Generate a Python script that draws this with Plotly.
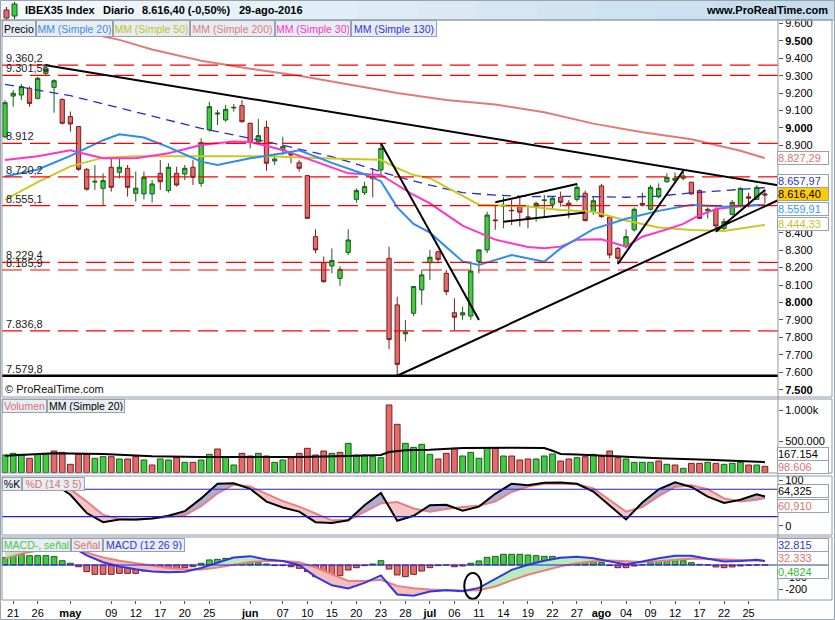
import plotly.graph_objects as go

# ---------------- data ----------------
dates = ["2016-04-20","2016-04-21","2016-04-22","2016-04-25","2016-04-26","2016-04-27","2016-04-28","2016-04-29",
"2016-05-02","2016-05-03","2016-05-04","2016-05-05","2016-05-06","2016-05-09","2016-05-10","2016-05-11","2016-05-12","2016-05-13",
"2016-05-16","2016-05-17","2016-05-18","2016-05-19","2016-05-20","2016-05-23","2016-05-24","2016-05-25","2016-05-26","2016-05-27",
"2016-05-30","2016-05-31",
"2016-06-01","2016-06-02","2016-06-03","2016-06-06","2016-06-07","2016-06-08","2016-06-09","2016-06-10","2016-06-13","2016-06-14",
"2016-06-15","2016-06-16","2016-06-17","2016-06-20","2016-06-21","2016-06-22","2016-06-23","2016-06-24","2016-06-27","2016-06-28",
"2016-06-29","2016-06-30",
"2016-07-01","2016-07-04","2016-07-05","2016-07-06","2016-07-07","2016-07-08","2016-07-11","2016-07-12","2016-07-13","2016-07-14",
"2016-07-15","2016-07-18","2016-07-19","2016-07-20","2016-07-21","2016-07-22","2016-07-25","2016-07-26","2016-07-27","2016-07-28","2016-07-29",
"2016-08-01","2016-08-02","2016-08-03","2016-08-04","2016-08-05","2016-08-08","2016-08-09","2016-08-10","2016-08-11","2016-08-12",
"2016-08-15","2016-08-16","2016-08-17","2016-08-18","2016-08-19","2016-08-22","2016-08-23","2016-08-24","2016-08-25","2016-08-26","2016-08-29"]

opens = [8950,9183,9189,9227,9170,9313,9233,9164,9065,9008,
         8763,8690,8654,8775,8746,8769,8626,8622,8622,8740,
         8641,8740,8736,8775,8683,8989,9080,9046,9115,9128,
         9027,8920,9004,8811,8874,8855,8801,8727,8377,8228,
         8209,8138,8286,8591,8629,8719,8759,8253,7986,7820,
         7938,8072,8228,8290,8167,7941,7928,7922,8234,8301,
         8473,8551,8528,8549,8490,8549,8585,8563,8603,8569,
         8591,8626,8520,8668,8488,8310,8320,8416,8568,8534,
         8606,8692,8700,8712,8689,8641,8526,8534,8425,8505,
         8553,8606,8591,8622]
highs = [9160,9218,9252,9237,9294,9360,9279,9170,9094,9011,
         8770,8788,8740,8832,8836,8788,8750,8750,8702,8816,
         8798,8778,8788,8816,8941,9151,9103,9132,9137,9160,
         9031,9052,9042,8855,8950,8864,8816,8731,8419,8263,
         8310,8209,8419,8654,8692,8769,8912,8320,8033,7900,
         8095,8186,8301,8297,8186,8024,7976,8236,8305,8520,
         8559,8606,8587,8606,8559,8578,8616,8606,8635,8587,
         8683,8640,8606,8679,8495,8318,8419,8545,8629,8673,
         8683,8740,8745,8755,8692,8648,8545,8545,8482,8587,
         8660,8629,8673,8649]
lows = [8940,9122,9160,9122,9164,9303,9088,9020,8979,8755,
        8641,8645,8553,8635,8711,8607,8578,8591,8572,8645,
        8630,8664,8702,8673,8664,8979,9017,9036,9094,9031,
        8883,8912,8754,8788,8845,8798,8750,8480,8282,8113,
        8167,8095,8272,8572,8616,8603,8721,7732,7579.8,7776,
        7922,7986,8129,8224,8043,7842,7900,7900,8167,8282,
        8416,8425,8444,8435,8425,8463,8492,8530,8549,8482,
        8578,8465,8502,8485,8253,8221,8310,8406,8550,8526,
        8597,8685,8685,8700,8617,8477,8482,8406,8406,8498,
        8545,8545,8587,8568]
closes = [9145,9199,9237,9141,9285,9336,9271,9027,9023,8763,
          8649,8694,8698,8660,8775,8660,8655,8717,8679,8692,
          8775,8673,8769,8717,8916,9122,9085,9107,9118,9036,
          8916,8956,8798,8822,8893,8845,8769,8482,8301,8119,
          8240,8190,8358,8641,8664,8710,8883,7787,7645,7830,
          8091,8158,8259,8247,8062,7915,7941,8180,8301,8501,
          8469,8557,8526,8517,8488,8568,8587,8597,8574,8558,
          8660,8469,8583,8492,8272,8253,8377,8534,8557,8660,
          8654,8717,8712,8725,8622,8482,8534,8438,8463,8574,
          8654,8597,8659.7,8616.4]

# volume in thousands of shares, and bar colour (1 = up / green, 0 = down / red)
volume_k = [282,309,293,229,293,293,347,325,132,293,
            293,229,255,255,218,218,255,202,121,218,
            202,239,164,164,202,293,379,255,121,309,
            266,309,266,164,202,239,309,390,282,347,
            309,325,470,282,282,255,239,1089,777,470,
            406,454,293,218,309,390,266,325,229,390,
            390,266,266,202,218,218,266,298,185,218,
            239,255,293,255,347,239,218,164,164,164,
            185,132,121,67,148,148,164,148,132,148,
            164,121,121,98.606]
volume_up = [1,1,1,0,1,1,0,0,0,0, 0,1,1,0,1,0,0,1,0,1,
             1,0,1,0,1,1,0,1,1,0, 0,1,0,1,1,0,0,0,0,0,
             1,0,1,1,1,1,1,0,0,1, 1,
             1,1,0,0,0,1,1,1,1,0, 1,0,0,0,1,1,1,0,0,1,
             0,1,0,0,0,1,1,1,1,0, 1,0,1,0,0,1,0,1,1,1,
             0,1,0]
vma_days = [0,6,12,18,24,30,36,42,46,47,49,52,56,62,66,67,68,70,74,80,86,90,93]
vma_k = [271,309,300,262,250,250,252,265,282,330,360,365,395,400,395,350,300,290,262,230,205,185,167.154]

# moving averages of price (trading-day number, value)
ma20_days = [0,4,8,12,14,17,20,24,26,30,34,36,40,44,46,48,50,52,56,58,62,66,68,72,76,80,84,88,93]
ma20_vals = [8722,8762,8840,8930,8964,8945,8890,8807,8788,8826,8855,8872,8800,8735,8695,8545,8450,8400,8235,8215,
             8272,8234,8310,8420,8480,8525,8560,8548,8559.91]
ma50_days = [0,4,8,12,16,24,32,40,46,48,50,52,56,58,64,68,72,76,80,84,88,93]
ma50_vals = [8590,8690,8780,8830,8838,8838,8838,8825,8818,8770,8730,8712,8610,8560,8550,8530,8520,8470,8430,8415,8410,8444.33]
ma30_days = [0,4,8,12,16,20,24,28,30,34,38,42,46,48,50,52,56,60,64,66,68,70,73,76,78,81,83,85,87,90,93]
ma30_vals = [8817,8838,8872,8826,8826,8855,8903,8922,8920,8874,8807,8740,8731,8673,8616,8568,8440,8360,8318,8310,
             8320,8360,8362,8320,8377,8419,8450,8500,8535,8552,8560]
ma200_days = [0,6,10,14,18,24,30,36,42,48,54,60,66,72,78,84,90,93]
ma200_vals = [9660,9590,9545,9505,9450,9385,9340,9300,9250,9200,9160,9135,9090,9025,8975,8935,8870,8827.29]
ma130_days = [0,8,16,24,32,40,48,52,56,60,64,70,76,80,84,88,93]
ma130_vals = [9250,9185,9092,8998,8922,8836,8721,8672,8630,8615,8607,8608,8603,8610,8628,8640,8657.97]

# oscillators, sampled every second trading day plus the last one
osc_dates = dates[::2] + [dates[-1]]
stoch_k = [92,95,96,92,68,28,8,14,14,16,22,32,60,92,93,81,53,40,31,8,6,12,45,72,11,22,45,46,33,42,
           70,92,89,94,95,92,75,45,14,51,80,95,85,64,50,57,69,64.325]
stoch_d = [85,88,92,92,80,53,24,15,13,16,20,23,43,71,90,86,70,54,42,27,12,12,30,49,52,38,31,37,41,44,
           53,74,86,92,92,91,82,56,31,41,65,85,89,80,60,53,57,60.91]
macd = [114,170,200,205,155,78,22,-12,-35,-52,-58,-55,-25,20,60,72,45,33,0,-95,-165,-190,-145,-85,-240,
        -250,-215,-205,-214,-186,-115,-40,2,35,58,67,54,30,5,28,55,75,76,50,28,33,42,32.815]
signal = [54,92,118,135,140,100,62,35,15,-8,-25,-35,-36,-20,0,25,32,33,22,-20,-75,-130,-130,-120,-170,
          -190,-200,-205,-208,-205,-175,-125,-80,-45,-10,14,30,36,28,25,30,42,50,50,45,40,36,32.333]
macd_hist = [60,76,87,76,76,76,68,35,14,-14,
             -54,-76,-76,-76,-68,-68,-68,-49,-49,-41,
             -33,-27,-22,-14,14,41,46,54,60,54,
             27,19,8,-5,-5,-14,-27,-54,-95,-108,
             -108,-87,-41,-22,-5,8,35,-33,-81,-95,
             -76,-49,-22,-5,0,-14,-8,14,33,62,
             70,87,87,87,81,76,70,70,62,54,
             54,27,27,19,-5,-22,-22,-8,5,19,
             35,35,35,35,19,5,1,-16,-22,-16,
             -8,-3,0.5,0.4824]

# support / resistance levels
level_vals = [9360.2, 9301.56, 8912, 8720.2, 8555.1, 8229.4, 8185.9, 7836.8]
level_txt = ["9.360,2", "9.301,56", "8.912", "8.720,2", "8.555,1", "8.229,4", "8.185,9", "7.836,8"]
support_val, support_txt = 7579.8, "7.579,8"

# hand-drawn trend lines: (date, price) -> (date, price), extend to right edge?
trend_a = [("2016-04-27", 9360), ("2016-06-23", 8912), ("2016-06-27", 7579.8), ("2016-07-13", 8574),
           ("2016-07-14", 8463), ("2016-08-03", 8221), ("2016-08-19", 8406)]
trend_b = [("2016-08-29", 8684), ("2016-07-11", 7900), ("2016-08-18", 8400), ("2016-07-27", 8679),
           ("2016-07-28", 8515), ("2016-08-15", 8755), ("2016-08-29", 8645)]
trend_ext = [True, False, True, False, False, False, False]
ellipse_x = [56.2, 58.3]
ellipse_y = [-276, -65]

tick_dates = ["2016-04-21","2016-04-26","2016-05-02","2016-05-09","2016-05-12","2016-05-17","2016-05-20","2016-05-25",
              "2016-06-01","2016-06-07","2016-06-10","2016-06-15","2016-06-20","2016-06-23","2016-06-28","2016-07-01",
              "2016-07-06","2016-07-11","2016-07-14","2016-07-19","2016-07-22","2016-07-27","2016-08-01","2016-08-04",
              "2016-08-09","2016-08-12","2016-08-17","2016-08-22","2016-08-25"]
tick_text = ["21","26","<b>may</b>","09","12","17","20","25","<b>jun</b>","07","10","15","20","23","28","<b>jul</b>",
             "06","11","14","19","22","27","<b>ago</b>","04","09","12","17","22","25"]

# ---------------- layout helpers ----------------
W, H = 835, 620
ML, MR, MT, MB = 2, 57, 20, 20
PW, PH = W - ML - MR, H - MT - MB
def fx(px): return (px - ML) / PW
def fy(py): return (H - MB - py) / PH

FONT = 'Arial, "Liberation Sans", sans-serif'
GREEN, GREEN_L = '#3fcc3f', '#1c5a1c'
RED, RED_L = '#e36b6b', '#7a1e1e'
SALMON = '#e88080'
pos = {d: i for i, d in enumerate(dates)}
xi = list(range(len(dates)))
osc_x = [pos[d] for d in osc_dates]
XR = [-0.37, 94.6]

price_dom = [fy(397), fy(20)]
vol_dom = [fy(473), fy(399)]
sto_dom = [fy(535), fy(476)]
macd_dom = [fy(600), fy(537)]

fig = go.Figure()

# ---- price panel ----
fig.add_trace(go.Candlestick(x=xi, open=opens, high=highs, low=lows, close=closes,
                             increasing=dict(fillcolor=GREEN, line=dict(color=GREEN_L, width=1)),
                             decreasing=dict(fillcolor=RED, line=dict(color=RED_L, width=1)),
                             whiskerwidth=0, hoverinfo='skip', showlegend=False, xaxis='x', yaxis='y'))
for d, v, c, w, dash in [(ma130_days, ma130_vals, '#2c2cc8', 1.3, '9px,6px'),
                         (ma200_days, ma200_vals, '#e37a7a', 2, 'solid'),
                         (ma50_days, ma50_vals, '#c9c923', 2, 'solid'),
                         (ma30_days, ma30_vals, '#ff33cc', 2, 'solid'),
                         (ma20_days, ma20_vals, '#2b8df2', 2, 'solid')]:
    fig.add_trace(go.Scatter(x=d, y=v, mode='lines', line=dict(color=c, width=w, dash=dash),
                             hoverinfo='skip', showlegend=False, xaxis='x', yaxis='y'))

# ---- volume panel ----
fig.add_trace(go.Bar(x=xi, y=[v * 1000 for v in volume_k], width=0.7,
                     marker=dict(color=[GREEN if u else RED for u in volume_up],
                                 line=dict(color=[GREEN_L if u else RED_L for u in volume_up], width=1)),
                     hoverinfo='skip', showlegend=False, xaxis='x', yaxis='y2'))
fig.add_trace(go.Scatter(x=vma_days, y=[v * 1000 for v in vma_k], mode='lines',
                         line=dict(color='#000000', width=2), hoverinfo='skip', showlegend=False,
                         xaxis='x', yaxis='y2'))

# ---- helper: two-colour fill between two sampled lines ----
def split_fill(xs, a, b):
    pos_x, pos_y, neg_x, neg_y = [], [], [], []
    for j in range(len(xs) - 1):
        x0, x1, a0, a1, b0, b1 = xs[j], xs[j + 1], a[j], a[j + 1], b[j], b[j + 1]
        d0, d1 = a0 - b0, a1 - b1
        if d0 * d1 < 0:
            t = d0 / (d0 - d1)
            xc, yc = x0 + t * (x1 - x0), a0 + t * (a1 - a0)
            segs = [([x0, xc, x0], [a0, yc, b0], d0), ([xc, x1, x1], [yc, a1, b1], d1)]
        else:
            segs = [([x0, x1, x1, x0], [a0, a1, b1, b0], d0 + d1)]
        for sx, sy, dd in segs:
            if dd >= 0:
                pos_x += sx + [None]; pos_y += sy + [None]
            else:
                neg_x += sx + [None]; neg_y += sy + [None]
    return pos_x, pos_y, neg_x, neg_y

# ---- stochastic panel ----
px_, py_, nx_, ny_ = split_fill(osc_x, stoch_k, stoch_d)
fig.add_trace(go.Scatter(x=px_, y=py_, fill='toself', fillcolor='#adadd8', mode='lines', line=dict(width=0),
                         hoverinfo='skip', showlegend=False, xaxis='x', yaxis='y3'))
fig.add_trace(go.Scatter(x=nx_, y=ny_, fill='toself', fillcolor='#f6c6c6', mode='lines', line=dict(width=0),
                         hoverinfo='skip', showlegend=False, xaxis='x', yaxis='y3'))
fig.add_trace(go.Scatter(x=osc_x, y=stoch_d, mode='lines', line=dict(color=SALMON, width=2),
                         hoverinfo='skip', showlegend=False, xaxis='x', yaxis='y3'))
fig.add_trace(go.Scatter(x=osc_x, y=stoch_k, mode='lines', line=dict(color='#000000', width=2),
                         hoverinfo='skip', showlegend=False, xaxis='x', yaxis='y3'))

# ---- MACD panel ----
fig.add_trace(go.Bar(x=xi, y=macd_hist, width=0.7,
                     marker=dict(color=[GREEN if h >= 0 else RED for h in macd_hist],
                                 line=dict(color=[GREEN_L if h >= 0 else RED_L for h in macd_hist], width=1)),
                     hoverinfo='skip', showlegend=False, xaxis='x', yaxis='y4'))
px_, py_, nx_, ny_ = split_fill(osc_x, macd, signal)
fig.add_trace(go.Scatter(x=px_, y=py_, fill='toself', fillcolor='#b9ecb9', mode='lines', line=dict(width=0),
                         hoverinfo='skip', showlegend=False, xaxis='x', yaxis='y4'))
fig.add_trace(go.Scatter(x=nx_, y=ny_, fill='toself', fillcolor='#f5bebe', mode='lines', line=dict(width=0),
                         hoverinfo='skip', showlegend=False, xaxis='x', yaxis='y4'))
fig.add_trace(go.Scatter(x=osc_x, y=signal, mode='lines', line=dict(color=SALMON, width=2),
                         hoverinfo='skip', showlegend=False, xaxis='x', yaxis='y4'))
fig.add_trace(go.Scatter(x=osc_x, y=macd, mode='lines', line=dict(color='#3535e6', width=2),
                         hoverinfo='skip', showlegend=False, xaxis='x', yaxis='y4'))

# ---------------- shapes ----------------
shapes = []
steps = 14
c0, c1 = (244, 249, 253), (196, 220, 238)
for k in range(steps):
    t = k / (steps - 1)
    col = 'rgb(%d,%d,%d)' % tuple(int(c0[m] + (c1[m] - c0[m]) * t) for m in range(3))
    shapes.append(dict(type='rect', xref='paper', yref='paper', x0=fx(W * k / steps), x1=fx(W * (k + 1) / steps + 1),
                       y0=fy(20), y1=fy(0), fillcolor=col, line=dict(width=0), layer='below'))
shapes.append(dict(type='line', xref='paper', yref='paper', x0=fx(0), x1=fx(W), y0=fy(20), y1=fy(20),
                   line=dict(color='#9aa4ae', width=1)))
for (bx0, bx1, by0, by1, wy0, wy1, fc, lc) in [(4, 9, 10, 18, 7, 21, RED, RED_L), (12, 17, 4, 16, 2, 19, GREEN, GREEN_L)]:
    cx = (bx0 + bx1) / 2
    shapes.append(dict(type='line', xref='paper', yref='paper', x0=fx(cx), x1=fx(cx), y0=fy(wy0), y1=fy(wy1),
                       line=dict(color='#333333', width=1)))
    shapes.append(dict(type='rect', xref='paper', yref='paper', x0=fx(bx0), x1=fx(bx1), y0=fy(by1), y1=fy(by0),
                       fillcolor=fc, line=dict(color=lc, width=1)))
for v in level_vals:
    shapes.append(dict(type='line', xref='paper', yref='y', x0=0, x1=1, y0=v, y1=v,
                       line=dict(color='#ff0000', width=1.2, dash='20px,8px')))
shapes.append(dict(type='line', xref='paper', yref='y', x0=0, x1=1, y0=support_val, y1=support_val,
                   line=dict(color='#000000', width=2.5)))
for (da, pa), (db, pb), ext in zip(trend_a, trend_b, trend_ext):
    xa, xb = pos[da], pos[db]
    if ext:
        slope = (pb - pa) / (xb - xa)
        pb = pa + slope * (XR[1] - xa)
        xb = XR[1]
    shapes.append(dict(type='line', xref='x', yref='y', x0=xa, x1=xb, y0=pa, y1=pb,
                       line=dict(color='#000000', width=2)))
for v in (20, 80):
    shapes.append(dict(type='line', xref='paper', yref='y3', x0=0, x1=1, y0=v, y1=v,
                       line=dict(color='#2020dd', width=1.2)))
shapes.append(dict(type='line', xref='paper', yref='y4', x0=0, x1=1, y0=0, y1=0,
                   line=dict(color='#2020dd', width=1.2)))
shapes.append(dict(type='circle', xref='x', yref='y4', x0=ellipse_x[0], x1=ellipse_x[1],
                   y0=ellipse_y[0], y1=ellipse_y[1], line=dict(color='#000000', width=2)))
for (t, b) in [(20, 397), (399, 473), (476, 535), (537, 600)]:
    shapes.append(dict(type='rect', xref='paper', yref='paper', x0=fx(2), x1=fx(832), y0=fy(b), y1=fy(t),
                       line=dict(color='#8e98a2', width=1)))
shapes.append(dict(type='line', xref='paper', yref='paper', x0=1, x1=1, y0=fy(600), y1=fy(20),
                   line=dict(color='#8e98a2', width=1)))
shapes.append(dict(type='rect', xref='paper', yref='paper', x0=fx(0.5), x1=fx(834.5), y0=fy(619.5), y1=fy(0.5),
                   line=dict(color='#9aa4ae', width=1)))

# ---------------- annotations ----------------
ann = []
def txt(s, x, y, size=11, color='#000', bold=False, xanchor='left', yanchor='middle'):
    ann.append(dict(xref='paper', yref='paper', x=fx(x), y=fy(y), xanchor=xanchor, yanchor=yanchor,
                    text=('<b>%s</b>' % s) if bold else s, showarrow=False,
                    font=dict(family=FONT, size=size, color=color)))

txt("IBEX35 Index", 23, 10, bold=True)
txt("Diario", 101, 10, bold=True)
txt("8.616,40 (-0,50%)", 140, 10, bold=True)
txt("29-ago-2016", 237, 10, bold=True)
txt("www.ProRealTime.com", 830, 10, bold=True, xanchor='right')
txt("© ProRealTime.com", 3, 389, size=11, color='#111')

def legbox(s, color, x0, x1, y0, y1):
    ann.append(dict(xref='paper', yref='paper', x=fx(x0), y=fy(y0), xanchor='left', yanchor='top',
                    text=s, showarrow=False, font=dict(family=FONT, size=10.5, color=color),
                    bgcolor='#e7edf2', bordercolor='#98a2ac', borderwidth=1, borderpad=1,
                    width=x1 - x0 - 4, height=y1 - y0 - 4, align='center', valign='middle'))

for s, c, a, b in [("Precio", '#000000', 2, 36), ("MM (Simple 20)", '#3a8ee8', 36, 113),
                   ("MM (Simple 50)", '#c4c41e', 113, 190), ("MM (Simple 200)", '#e08080', 190, 275),
                   ("MM (Simple 30)", '#ff33cc', 275, 351), ("MM (Simple 130)", '#3333dd', 351, 437)]:
    legbox(s, c, a, b, 20, 37)
legbox("Volumen", '#e07070', 2, 47, 399, 413)
legbox("MM (Simple 20)", '#000000', 47, 125, 399, 413)
legbox("%K", '#000000', 2, 22, 477, 491)
legbox("%D (14 3 5)", '#e07070', 22, 85, 477, 491)
legbox("MACD-, señal", '#44cc44', 2, 71, 538, 552)
legbox("Señal", '#e07070', 71, 103, 538, 552)
legbox("MACD (12 26 9)", '#3333dd', 103, 185, 538, 552)

for v, s in zip(level_vals + [support_val], level_txt + [support_txt]):
    ann.append(dict(xref='paper', yref='y', x=fx(4), y=v, xanchor='left', yanchor='bottom', yshift=-1,
                    text=s, showarrow=False, font=dict(family=FONT, size=11, color='#1a1a1a')))

def vbox(s, yref, y, color, bg='#ffffff', yshift=0):
    ann.append(dict(xref='paper', yref=yref, x=1, y=y, xanchor='left', yanchor='middle', xshift=-1, yshift=yshift,
                    text=s, showarrow=False, font=dict(family=FONT, size=11, color=color),
                    bgcolor=bg, bordercolor='#98a2ac', borderwidth=1, borderpad=0, width=50, height=12,
                    align='left', valign='middle'))

vbox("8.827,29", 'y', ma200_vals[-1], '#e07070')
vbox("8.657,97", 'y', ma130_vals[-1], '#3333cc', yshift=7)
vbox("8.616,40", 'y', closes[-1], '#000000', bg='#ffcc00', yshift=1)
vbox("8.559,91", 'y', ma20_vals[-1], '#3399ff', yshift=-4)
vbox("8.444,33", 'y', ma50_vals[-1], '#c4c41e', yshift=1)
vbox("167.154", 'y2', vma_k[-1] * 1000, '#000000', yshift=8)
vbox("98.606", 'y2', volume_k[-1] * 1000, '#e07070', yshift=-1)
vbox("64,325", 'y3', stoch_k[-1], '#000000', yshift=5)
vbox("60,910", 'y3', stoch_d[-1], '#e07070', yshift=-8)
vbox("32.815", 'y4', macd[-1], '#3333cc', yshift=16)
vbox("32.333", 'y4', signal[-1], '#e07070', yshift=3)
vbox("0,4824", 'y4', macd_hist[-1], '#33bb33', yshift=-7)

# ---------------- axes ----------------
price_ticks = list(range(7500, 9601, 100))
hidden_ticks = (8500, 8600, 8700, 8800)   # covered by the last-value boxes in the reference
price_text = ["" if t in hidden_ticks else
              (("<b>%s</b>" if t % 500 == 0 else "%s") % ("{:,}".format(t).replace(",", ".")))
              for t in price_ticks]
tickfont = dict(family=FONT, size=11, color='#000000')
yax = dict(side='right', anchor='x', showgrid=False, zeroline=False, showline=False, ticks='outside',
           ticklen=4, tickcolor='#555555', tickfont=tickfont, fixedrange=True)

fig.update_layout(
    width=W, height=H, margin=dict(l=ML, r=MR, t=MT, b=MB),
    paper_bgcolor='white', plot_bgcolor='white', showlegend=False, hovermode=False,
    barmode='overlay', boxgap=0.25,
    font=dict(family=FONT, size=11, color='#000'),
    xaxis=dict(domain=[0, 1], range=XR, anchor='y4', tickvals=[pos[d] for d in tick_dates], ticktext=tick_text,
               ticks='outside', ticklen=3, tickcolor='#555555', showgrid=False, zeroline=False, showline=False,
               tickfont=tickfont, rangeslider=dict(visible=False), fixedrange=True),
    yaxis=dict(yax, domain=price_dom, range=[7458, 9619], tickvals=price_ticks, ticktext=price_text),
    yaxis2=dict(yax, domain=vol_dom, range=[-8000, 1185500], tickvals=[500000, 1000000],
                ticktext=["500.000", "1.000k"]),
    yaxis3=dict(yax, domain=sto_dom, range=[-20.1, 109], tickvals=[0, 100], ticktext=["0", "100"]),
    yaxis4=dict(yax, domain=macd_dom, range=[-284.6, 227.6], tickvals=[-200, -100, 0, 100],
                ticktext=["-200", "-100", "", ""]),
    shapes=shapes, annotations=ann,
)

fig.write_html("out.html")
